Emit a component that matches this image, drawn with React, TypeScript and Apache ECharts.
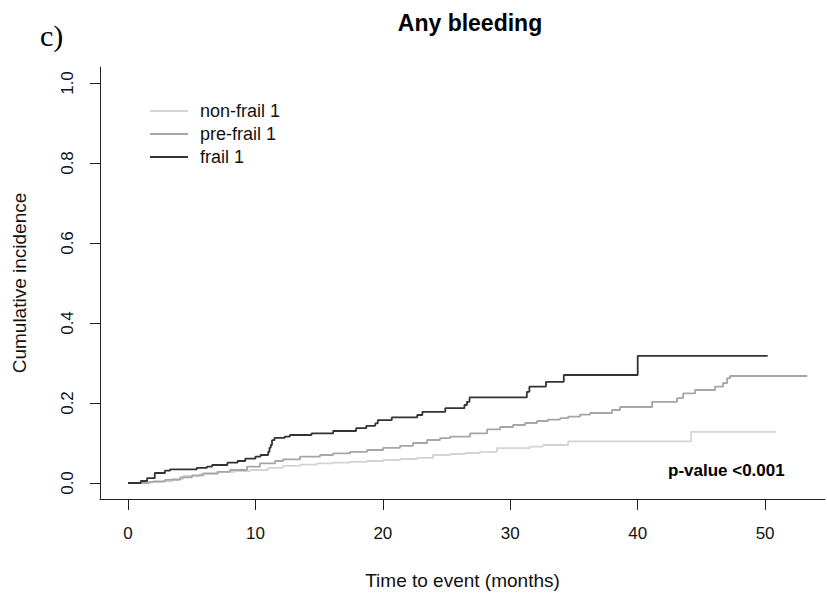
import React, { useEffect, useRef } from "react";
import * as echarts from "echarts";

const groupNames = ["non-frail 1", "pre-frail 1", "frail 1"];
const groupColors = ["#d4d4d4", "#a6a6a6", "#333333"];

const nonFrailTime = [0, 1.73, 2.75, 3.45, 4.32, 5.65, 6.99, 8.4, 9.58, 10.99, 12.17, 13.5, 14.84, 16.09, 17.43, 18.76, 20.02, 21.35, 22.68, 23.94, 25.27, 26.45, 27.63, 28.96, 31.55, 32.57, 34.54, 44.19, 50.86];
const nonFrailCI = [0, 0.002, 0.004, 0.010, 0.0175, 0.022, 0.028, 0.030, 0.0325, 0.038, 0.043, 0.046, 0.049, 0.051, 0.053, 0.055, 0.0575, 0.060, 0.063, 0.070, 0.0725, 0.075, 0.078, 0.087, 0.091, 0.095, 0.104, 0.128, 0.128];

const preFrailTime = [0, 1.57, 1.96, 2.9, 4.08, 5.02, 5.89, 7.06, 8.01, 9.34, 10.36, 11.54, 12.17, 13.5, 15.07, 16.09, 17.43, 18.76, 20.02, 21.35, 22.37, 23.47, 24.49, 25.27, 26.84, 28.18, 29.2, 30.22, 31.16, 32.1, 32.97, 33.91, 34.54, 35.48, 36.26, 37.99, 38.62, 41.13, 43.09, 43.56, 44.5, 46.07, 46.7, 47.02, 47.25, 53.3];
const preFrailCI = [0, 0.002, 0.004, 0.008, 0.014, 0.019, 0.024, 0.028, 0.0325, 0.041, 0.049, 0.055, 0.059, 0.066, 0.070, 0.074, 0.078, 0.0825, 0.088, 0.093, 0.100, 0.1075, 0.112, 0.116, 0.124, 0.134, 0.140, 0.145, 0.150, 0.155, 0.1585, 0.162, 0.166, 0.171, 0.175, 0.1825, 0.190, 0.203, 0.212, 0.224, 0.2325, 0.241, 0.250, 0.262, 0.2675, 0.2675];

const frailTime = [0, 1.0, 1.5, 2.1, 2.9, 3.3, 5.4, 6.2, 6.6, 7.8, 8.6, 9.2, 10.0, 10.4, 11.0, 11.1, 11.2, 11.3, 11.5, 12.3, 12.7, 14.4, 16.1, 17.9, 18.7, 19.4, 19.6, 20.7, 22.7, 23.1, 24.9, 26.4, 26.6, 26.8, 31.3, 31.5, 32.8, 34.2, 40.0, 50.2];
const frailCI = [0, 0.005, 0.012, 0.025, 0.031, 0.034, 0.038, 0.041, 0.045, 0.051, 0.055, 0.061, 0.066, 0.070, 0.078, 0.088, 0.095, 0.107, 0.113, 0.116, 0.120, 0.124, 0.130, 0.137, 0.143, 0.149, 0.157, 0.164, 0.170, 0.178, 0.187, 0.195, 0.203, 0.214, 0.228, 0.241, 0.253, 0.270, 0.318, 0.318];

const xTicks = [0, 10, 20, 30, 40, 50];
const yTicks = [0, 0.2, 0.4, 0.6, 0.8, 1.0];

const titleText = "Any bleeding";
const panelLabel = "c)";
const pValueText = "p-value <0.001";
const xName = "Time to event (months)";
const yName = "Cumulative incidence";

const FONT = "'Liberation Sans', Arial, sans-serif";

export default function App() {
  const ref = useRef<HTMLDivElement>(null);
  useEffect(() => {
    if (!ref.current) return;
    const chart = echarts.init(ref.current, undefined, { renderer: "svg" });
    const times = [nonFrailTime, preFrailTime, frailTime];
    const vals = [nonFrailCI, preFrailCI, frailCI];
    const series = groupNames.map((name, i) => ({
      name,
      type: "line",
      step: "end",
      symbol: "none",
      showSymbol: false,
      data: times[i].map((t, j) => [t, vals[i][j]]),
      lineStyle: { color: groupColors[i], width: 1.8 },
      itemStyle: { color: groupColors[i] },
      z: 2 + i,
    }));
    chart.setOption({
      animation: false,
      backgroundColor: "#ffffff",
      title: {
        text: titleText,
        left: 465,
        top: 6,
        textAlign: "center",
        textStyle: { fontFamily: FONT, fontSize: 23, fontWeight: "bold", color: "#000" },
      },
      legend: {
        data: groupNames,
        orient: "vertical",
        left: 145,
        top: 96,
        icon: "rect",
        itemWidth: 38,
        itemHeight: 2,
        itemGap: 3,
        textStyle: { fontFamily: FONT, fontSize: 18, color: "#111", lineHeight: 20, padding: [0, 0, 0, 7] },
      },
      grid: { left: 100, right: 2, top: 67, bottom: 96, containLabel: false },
      xAxis: {
        type: "value",
        min: -2.2,
        max: 54.7,
        name: xName,
        nameLocation: "middle",
        nameGap: 72,
        nameTextStyle: { fontFamily: FONT, fontSize: 19, color: "#111" },
        axisLine: { show: true, onZero: false, lineStyle: { color: "#222", width: 1 } },
        axisTick: { show: true, customValues: xTicks, length: 11, lineStyle: { color: "#222" } },
        axisLabel: {
          customValues: xTicks,
          fontFamily: FONT,
          fontSize: 17,
          color: "#111",
          margin: 26,
        },
        splitLine: { show: false },
      },
      yAxis: {
        type: "value",
        min: -0.04,
        max: 1.04,
        name: yName,
        nameLocation: "middle",
        nameRotate: 90,
        nameGap: 71,
        nameTextStyle: { fontFamily: FONT, fontSize: 19, color: "#111" },
        axisLine: { show: true, onZero: false, lineStyle: { color: "#222", width: 1 } },
        axisTick: { show: true, customValues: yTicks, length: 10, lineStyle: { color: "#222" } },
        axisLabel: {
          customValues: yTicks,
          rotate: 90,
          fontFamily: FONT,
          fontSize: 17,
          color: "#111",
          margin: 24,
          formatter: (v: number) => v.toFixed(1),
        },
        splitLine: { show: false },
      },
      graphic: [
        {
          type: "text",
          left: 40,
          top: 20,
          style: { text: panelLabel, fontFamily: "'Liberation Serif', 'Times New Roman', serif", fontSize: 30, fill: "#000" },
        },
        {
          type: "text",
          left: 668,
          top: 462,
          style: { text: pValueText, fontFamily: FONT, fontSize: 17, fontWeight: "bold", fill: "#000" },
        },
      ],
      series,
    });
    return () => chart.dispose();
  }, []);
  return (
    <div
      ref={ref}
      style={{ position: "fixed", left: 0, top: 0, width: 827, height: 595, background: "#fff" }}
    />
  );
}
